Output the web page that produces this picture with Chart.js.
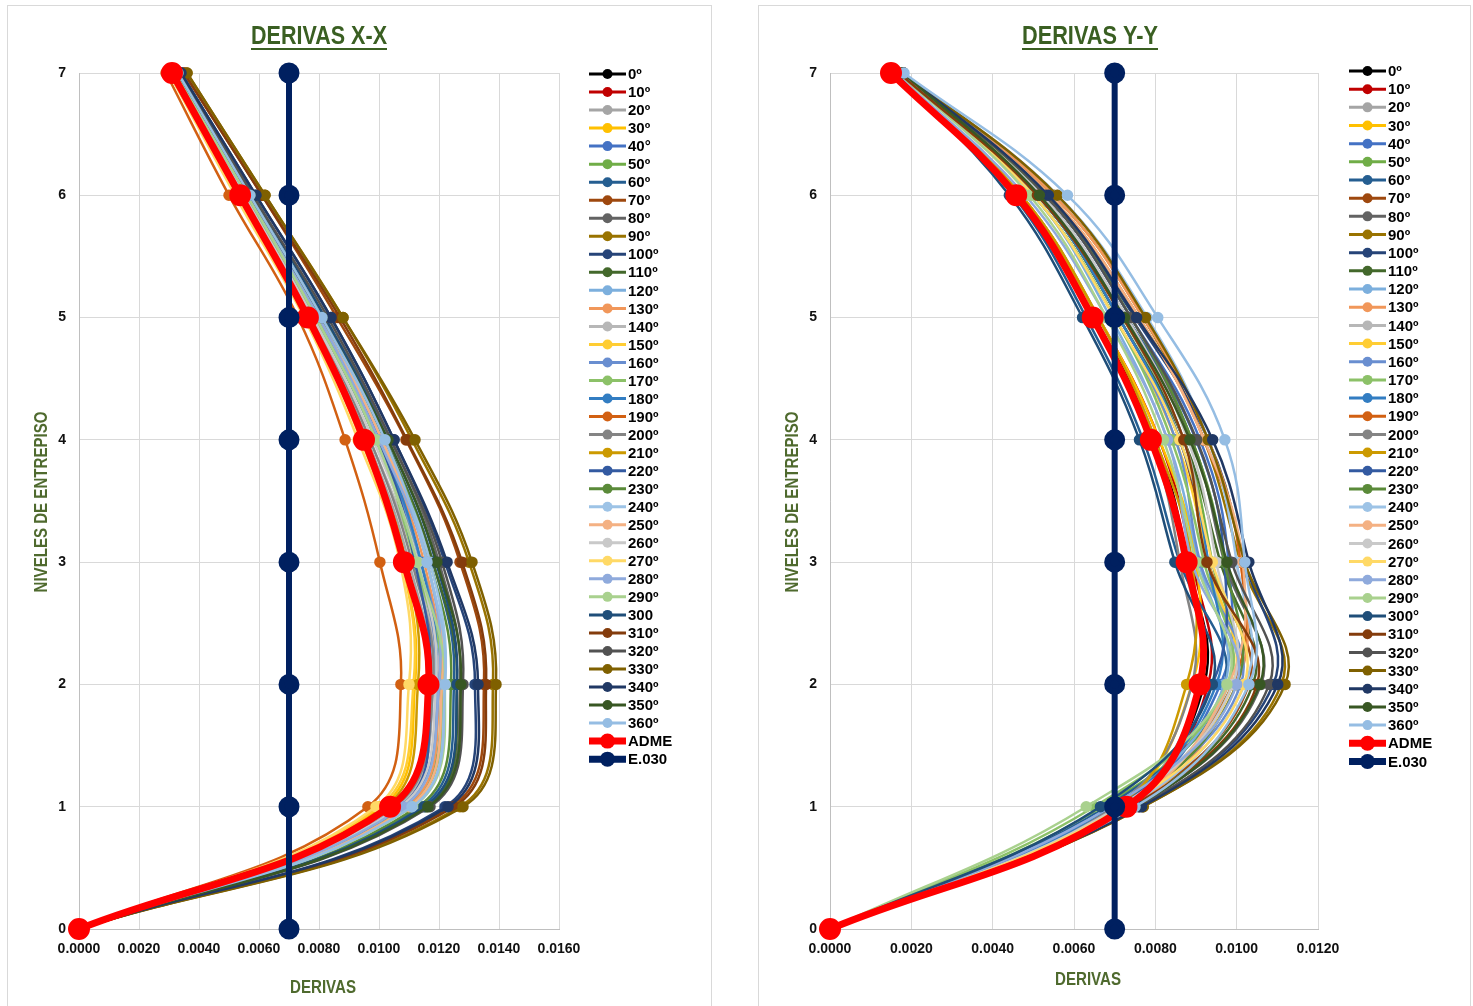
<!DOCTYPE html>
<html lang="es">
<head>
<meta charset="UTF-8">
<title>Derivas X-X / Y-Y</title>
<script src="https://cdn.jsdelivr.net/npm/chart.js"></script>
<style>
  body { margin: 0; background: #fff; }
  .marco { position: absolute; border: 1px solid #d9d9d9; box-sizing: border-box; }
  canvas { position: absolute; }
</style>
</head>
<body>
<div class="marco" style="left:7px;top:5px;width:705px;height:1010px"></div>
<div class="marco" style="left:758px;top:5px;width:713px;height:1010px"></div>
<canvas id="chartX" style="left:8px;top:6px" width="702" height="1000"></canvas>
<canvas id="chartY" style="left:759px;top:6px" width="710" height="1000"></canvas>

<script>
// niveles de entrepiso (eje vertical)
const niveles = [0, 1, 2, 3, 4, 5, 6, 7];

const etiquetasXX = ['0º','10º','20º','30º','40°','50º','60º','70º','80º','90º','100º','110º','120º','130º','140º','150º','160º','170º','180º','190º',
  '200º','210º','220º','230º','240º','250º','260º','270º','280º','290º','300','310º','320º','330º','340º','350º','360º'];
const etiquetasYY = ['0º','10º','20º','30º','40º','50º','60º','70º','80º','90º','100º','110º','120º','130º','140º','150º','160º','170º','180º','190º',
  '200º','210º','220º','230º','240º','250º','260º','270º','280º','290º','300°','310º','320º','330º','340º','350º','360º'];

const colores = ['#000000','#C00000','#A5A5A5','#FFC000','#4472C4','#70AD47','#255E91','#9E480E','#636363','#997300',
  '#264478','#43682B','#7CAFDD','#F1975A','#B7B7B7','#FFCD33','#698ED0','#8CC168','#327DC2','#D26012',
  '#848484','#CC9A00','#335AA1','#5A8A39','#9DC3E6','#F4B183','#C9C9C9','#FFD966','#8FAADC','#A9D18E',
  '#1F4E79','#843C0C','#525252','#7F6000','#203864','#385723','#95BDE3'];

// derivas X-X por angulo (nivel 0..7)
const xx000 = [0, 0.0104, 0.0116, 0.0109, 0.0095, 0.0076, 0.0054, 0.0031];
const xx010 = [0, 0.0104, 0.0117, 0.0109, 0.0096, 0.0077, 0.0054, 0.0031];
const xx020 = [0, 0.0105, 0.0117, 0.0110, 0.0096, 0.0077, 0.0054, 0.0031];
const xx030 = [0, 0.0101, 0.0112, 0.0108, 0.0095, 0.0076, 0.0053, 0.0030];
const xx040 = [0, 0.0106, 0.0118, 0.0113, 0.0099, 0.0079, 0.0056, 0.0032];
const xx050 = [0, 0.0109, 0.0121, 0.0114, 0.0099, 0.0079, 0.0056, 0.0032];
const xx060 = [0, 0.0114, 0.0125, 0.0118, 0.0102, 0.0081, 0.0057, 0.0033];
const xx070 = [0, 0.0124, 0.0135, 0.0127, 0.0109, 0.0086, 0.0061, 0.0035];
const xx080 = [0, 0.0116, 0.0127, 0.0120, 0.0104, 0.0082, 0.0058, 0.0034];
const xx090 = [0, 0.0127, 0.0138, 0.0130, 0.0111, 0.0088, 0.0062, 0.0036];
const xx100 = [0, 0.0122, 0.0132, 0.0122, 0.0105, 0.0084, 0.0059, 0.0034];
const xx110 = [0, 0.01155, 0.0126, 0.0118, 0.0102, 0.0081, 0.0057, 0.0033];
const xx120 = [0, 0.0110, 0.0121, 0.0116, 0.0101, 0.0081, 0.0057, 0.0033];
const xx130 = [0, 0.0109, 0.0120, 0.0115, 0.0100, 0.0080, 0.0057, 0.0032];
const xx140 = [0, 0.0106, 0.0118, 0.0112, 0.0097, 0.0078, 0.0055, 0.0032];
const xx150 = [0, 0.0100, 0.01115, 0.01077, 0.0094, 0.0076, 0.0053, 0.0030];
const xx160 = [0, 0.0107, 0.0120, 0.0114, 0.0099, 0.0079, 0.0056, 0.0032];
const xx170 = [0, 0.0110, 0.0121, 0.0112, 0.0099, 0.0079, 0.0056, 0.0032];
const xx180 = [0, 0.0108, 0.0119, 0.0114, 0.0100, 0.0080, 0.0056, 0.0032];
const xx190 = [0, 0.00963, 0.01073, 0.01003, 0.00887, 0.0073, 0.0050, 0.0029];
const xx200 = [0, 0.0105, 0.0118, 0.0111, 0.0097, 0.0078, 0.0055, 0.0031];
const xx210 = [0, 0.0102, 0.0113, 0.0109, 0.0095, 0.0077, 0.0054, 0.0031];
const xx220 = [0, 0.0107, 0.0117, 0.0112, 0.0100, 0.0080, 0.0056, 0.0032];
const xx230 = [0, 0.0113, 0.0124, 0.0117, 0.0102, 0.0081, 0.0057, 0.0033];
const xx240 = [0, 0.0111, 0.0122, 0.0117, 0.0101, 0.0081, 0.0057, 0.0033];
const xx250 = [0, 0.0110, 0.0121, 0.0116, 0.0101, 0.0080, 0.0057, 0.0033];
const xx260 = [0, 0.0107, 0.0119, 0.0113, 0.0098, 0.0078, 0.0055, 0.0032];
const xx270 = [0, 0.0099, 0.0110, 0.0107, 0.0093, 0.0075, 0.0052, 0.0030];
const xx280 = [0, 0.0108, 0.0120, 0.0116, 0.0100, 0.0080, 0.0056, 0.0032];
const xx290 = [0, 0.01113, 0.0122, 0.01127, 0.0099, 0.0079, 0.0056, 0.0032];
const xx300 = [0, 0.0115, 0.0126, 0.0119, 0.0103, 0.0082, 0.0058, 0.0033];
const xx310 = [0, 0.0125, 0.01357, 0.01277, 0.01093, 0.0087, 0.0061, 0.0035];
const xx320 = [0, 0.0117, 0.0128, 0.0121, 0.0104, 0.0083, 0.0058, 0.0034];
const xx330 = [0, 0.0128, 0.0139, 0.0131, 0.0112, 0.0088, 0.0062, 0.0036];
const xx340 = [0, 0.0123, 0.0133, 0.01227, 0.0105, 0.0084, 0.0059, 0.0034];
const xx350 = [0, 0.01163, 0.01273, 0.01193, 0.0103, 0.0081, 0.0057, 0.0033];
const xx360 = [0, 0.0111, 0.0122, 0.0116, 0.0102, 0.0081, 0.0057, 0.0033];
const admeXX = [0, 0.01037, 0.01165, 0.01083, 0.0095, 0.00763, 0.00537, 0.0031];

// derivas Y-Y por angulo (nivel 0..7)
const yy000 = [0, 0.0072, 0.0092, 0.0088, 0.0080, 0.0065, 0.0046, 0.0015];
const yy010 = [0, 0.0073, 0.0093, 0.0089, 0.0081, 0.0066, 0.0047, 0.0016];
const yy020 = [0, 0.0071, 0.0091, 0.0087, 0.0080, 0.0066, 0.0047, 0.0016];
const yy030 = [0, 0.0071, 0.0089, 0.0090, 0.0081, 0.0066, 0.0047, 0.0016];
const yy040 = [0, 0.0072, 0.0096, 0.0098, 0.0091, 0.0074, 0.0053, 0.0017];
const yy050 = [0, 0.0067, 0.0099, 0.0094, 0.0087, 0.0072, 0.0052, 0.0017];
const yy060 = [0, 0.0068, 0.0097, 0.0086, 0.0077, 0.0063, 0.0045, 0.0016];
const yy070 = [0, 0.0073, 0.0103, 0.0093, 0.0086, 0.0071, 0.0051, 0.0017];
const yy080 = [0, 0.0075, 0.0106, 0.0097, 0.0089, 0.0073, 0.0052, 0.0018];
const yy090 = [0, 0.0077, 0.0111, 0.0101, 0.0092, 0.0077, 0.0055, 0.0018];
const yy100 = [0, 0.0076, 0.0109, 0.0102, 0.0093, 0.0075, 0.0053, 0.0018];
const yy110 = [0, 0.0074, 0.0104, 0.0096, 0.0087, 0.0071, 0.0051, 0.0017];
const yy120 = [0, 0.0069, 0.0097, 0.00907, 0.0083, 0.0069, 0.0050, 0.0017];
const yy130 = [0, 0.0074, 0.0100, 0.0101, 0.0093, 0.0077, 0.0055, 0.0018];
const yy140 = [0, 0.0071, 0.0098, 0.0093, 0.0087, 0.0072, 0.0052, 0.0017];
const yy150 = [0, 0.0071, 0.0099, 0.0093, 0.0085, 0.0070, 0.0050, 0.0017];
const yy160 = [0, 0.0070, 0.0101, 0.0091, 0.0085, 0.0070, 0.0050, 0.0017];
const yy170 = [0, 0.0065, 0.0098, 0.0092, 0.0084, 0.0070, 0.0050, 0.0017];
const yy180 = [0, 0.0070, 0.0095, 0.0093, 0.0086, 0.0071, 0.0051, 0.0017];
const yy190 = [0, 0.0073, 0.0099, 0.0101, 0.0092, 0.0076, 0.0054, 0.0018];
const yy200 = [0, 0.0070, 0.0089, 0.0086, 0.0079, 0.0065, 0.0046, 0.0016];
const yy210 = [0, 0.0071, 0.00877, 0.0089, 0.0080, 0.0066, 0.0047, 0.0016];
const yy220 = [0, 0.0071, 0.0094, 0.0097, 0.0090, 0.0073, 0.0052, 0.0017];
const yy230 = [0, 0.0072, 0.0100, 0.0097, 0.0089, 0.0074, 0.0053, 0.0017];
const yy240 = [0, 0.0073, 0.0102, 0.0100, 0.0093, 0.0078, 0.0056, 0.0018];
const yy250 = [0, 0.0073, 0.0098, 0.01015, 0.0092, 0.0076, 0.0054, 0.0018];
const yy260 = [0, 0.0071, 0.0099, 0.0095, 0.0088, 0.0073, 0.0052, 0.0017];
const yy270 = [0, 0.0072, 0.01018, 0.0094, 0.0086, 0.0070, 0.0050, 0.0017];
const yy280 = [0, 0.0069, 0.0100, 0.0089, 0.0083, 0.0068, 0.0048, 0.0016];
const yy290 = [0, 0.0063, 0.00976, 0.0090, 0.0082, 0.0068, 0.0049, 0.0017];
const yy300 = [0, 0.00665, 0.0094, 0.00848, 0.00761, 0.00621, 0.00441, 0.0016];
const yy310 = [0, 0.0074, 0.0105, 0.00927, 0.0087, 0.0072, 0.0051, 0.0017];
const yy320 = [0, 0.0076, 0.0108, 0.00988, 0.00902, 0.0074, 0.0053, 0.0018];
const yy330 = [0, 0.0077, 0.01119, 0.0102, 0.0093, 0.00776, 0.00559, 0.0018];
const yy340 = [0, 0.00766, 0.01101, 0.0103, 0.00941, 0.00754, 0.00537, 0.0018];
const yy350 = [0, 0.0075, 0.01057, 0.00976, 0.00885, 0.00724, 0.00515, 0.0018];
const yy360 = [0, 0.0075, 0.0103, 0.0102, 0.00971, 0.00806, 0.00584, 0.00182];
const admeYY = [0, 0.00729, 0.00909, 0.00877, 0.00789, 0.00646, 0.00458, 0.0015];

// limite de deriva E.030
const e030 = [0.007, 0.007, 0.007, 0.007, 0.007, 0.007, 0.007, 0.007];

const seriesXX = [xx000, xx010, xx020, xx030, xx040, xx050, xx060, xx070, xx080, xx090, xx100, xx110, xx120,
  xx130, xx140, xx150, xx160, xx170, xx180, xx190, xx200, xx210, xx220, xx230, xx240, xx250, xx260, xx270,
  xx280, xx290, xx300, xx310, xx320, xx330, xx340, xx350, xx360];
const seriesYY = [yy000, yy010, yy020, yy030, yy040, yy050, yy060, yy070, yy080, yy090, yy100, yy110, yy120,
  yy130, yy140, yy150, yy160, yy170, yy180, yy190, yy200, yy210, yy220, yy230, yy240, yy250, yy260, yy270,
  yy280, yy290, yy300, yy310, yy320, yy330, yy340, yy350, yy360];

const VERDE_TITULO = '#3A5F22';
const VERDE_EJE = '#4F6A2E';
const FUENTE = '"Liberation Sans", Arial, sans-serif';

function puntos(vals) {
  return vals.map((v, i) => ({ x: v, y: niveles[i] }));
}

function armarDatasets(series, etiquetas, adme) {
  const n = series.length;
  const ds = series.map((vals, i) => ({
    label: etiquetas[i],
    data: puntos(vals),
    borderColor: colores[i],
    backgroundColor: colores[i],
    borderWidth: 2.5,
    pointRadius: 4.5,
    pointHoverRadius: 4.5,
    order: n + 2 - i,
    leyenda: { lw: 3, r: 5 }
  }));
  ds.push({
    label: 'ADME', data: puntos(adme), borderColor: '#FF0000', backgroundColor: '#FF0000',
    borderWidth: 7, pointRadius: 7.5, pointHoverRadius: 7.5, order: 1, leyenda: { lw: 7, r: 7.5 }
  });
  ds.push({
    label: 'E.030', data: puntos(e030), borderColor: '#002060', backgroundColor: '#002060',
    borderWidth: 6, pointRadius: 7.5, pointHoverRadius: 7.5, order: 0, tension: 0, leyenda: { lw: 7, r: 7.5 }
  });
  return ds;
}

// texto comprimido horizontalmente (como la fuente angosta del original)
function textoAngosto(ctx, txt, x, y, font, ancho, color) {
  ctx.save();
  ctx.font = font;
  ctx.fillStyle = color;
  ctx.textAlign = 'center';
  ctx.textBaseline = 'middle';
  const w = ctx.measureText(txt).width;
  ctx.translate(x, y);
  ctx.scale(ancho / w, 1);
  ctx.fillText(txt, 0, 0);
  ctx.restore();
}

const titulos = {
  id: 'titulos',
  afterDraw(chart, args, o) {
    const ctx = chart.ctx;
    textoAngosto(ctx, o.titulo, o.tx, o.ty, 'bold 26px ' + FUENTE, 136, VERDE_TITULO);
    ctx.save();
    ctx.strokeStyle = VERDE_TITULO;
    ctx.lineWidth = 2;
    ctx.beginPath();
    ctx.moveTo(o.tx - 68, o.ty + 12);
    ctx.lineTo(o.tx + 68, o.ty + 12);
    ctx.stroke();
    ctx.restore();
    textoAngosto(ctx, 'DERIVAS', o.ax, o.ay, 'bold 19px ' + FUENTE, 66, VERDE_EJE);
    ctx.save();
    ctx.translate(o.vx, o.vy);
    ctx.rotate(-Math.PI / 2);
    textoAngosto(ctx, 'NIVELES DE ENTREPISO', 0, 0, 'bold 19px ' + FUENTE, 181, VERDE_EJE);
    ctx.restore();
  }
};

const leyendaLateral = {
  id: 'leyendaLateral',
  afterDraw(chart, args, o) {
    const ctx = chart.ctx;
    const x0 = chart.chartArea.right + o.dx;
    chart.data.datasets.forEach((ds, i) => {
      const y = o.y0 + i * o.paso;
      ctx.save();
      ctx.strokeStyle = ds.borderColor;
      ctx.lineWidth = ds.leyenda.lw;
      ctx.beginPath();
      ctx.moveTo(x0, y);
      ctx.lineTo(x0 + 37, y);
      ctx.stroke();
      ctx.fillStyle = ds.backgroundColor;
      ctx.beginPath();
      ctx.arc(x0 + 18.5, y, ds.leyenda.r, 0, Math.PI * 2);
      ctx.fill();
      ctx.fillStyle = '#000';
      ctx.font = 'bold 15px ' + FUENTE;
      ctx.textAlign = 'left';
      ctx.textBaseline = 'middle';
      ctx.fillText(ds.label, x0 + 39, y + 1);
      ctx.restore();
    });
  }
};

function crearGrafico(id, datasets, xmax, ancho, opTitulos, opLeyenda) {
  return new Chart(document.getElementById(id), {
    type: 'scatter',
    data: { datasets: datasets },
    plugins: [titulos, leyendaLateral],
    options: {
      responsive: false,
      animation: false,
      showLine: true,
      elements: {
        line: { tension: 0.4 },
        point: { borderWidth: 0 }
      },
      datasets: { scatter: { clip: false } },
      layout: { padding: { left: 0, top: 67, right: ancho, bottom: 0 } },
      scales: {
        x: {
          type: 'linear', min: 0, max: xmax,
          afterFit: s => { s.height = 77; },
          grid: { color: '#d9d9d9', lineWidth: 1, drawTicks: false },
          border: { color: '#bfbfbf' },
          ticks: {
            stepSize: 0.002, padding: 12, color: '#111',
            font: { family: FUENTE, size: 14, weight: 'bold' },
            callback: v => Number(v).toFixed(4)
          }
        },
        y: {
          type: 'linear', min: 0, max: 7,
          afterFit: s => { s.width = 71; },
          grid: { color: '#d9d9d9', lineWidth: 1, drawTicks: false },
          border: { color: '#bfbfbf' },
          ticks: {
            stepSize: 1, padding: 13, color: '#111',
            font: { family: FUENTE, size: 14, weight: 'bold' }
          }
        }
      },
      plugins: {
        legend: { display: false },
        tooltip: { enabled: false },
        titulos: opTitulos,
        leyendaLateral: opLeyenda
      }
    }
  });
}

crearGrafico('chartX', armarDatasets(seriesXX, etiquetasXX, admeXX), 0.016, 151,
  { titulo: 'DERIVAS X-X', tx: 311, ty: 31, ax: 315, ay: 982, vx: 34, vy: 496 },
  { dx: 30, y0: 68, paso: 18.03 });

crearGrafico('chartY', armarDatasets(seriesYY, etiquetasYY, admeYY), 0.012, 151,
  { titulo: 'DERIVAS Y-Y', tx: 331, ty: 31, ax: 329, ay: 974, vx: 34, vy: 496 },
  { dx: 31, y0: 65, paso: 18.17 });
</script>
</body>
</html>
